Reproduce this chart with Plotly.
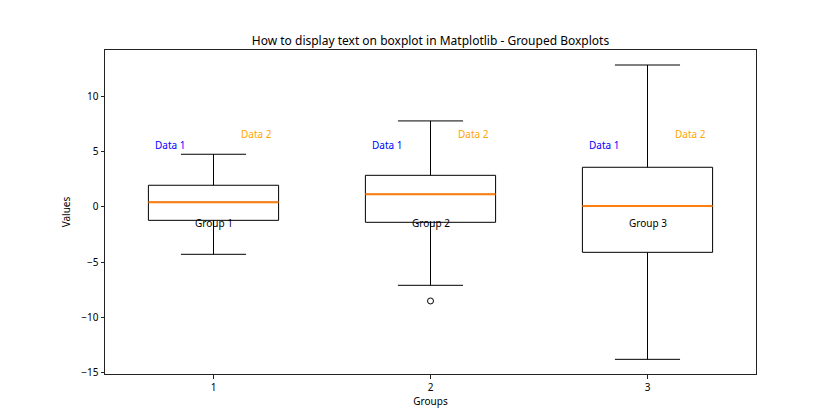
import plotly.graph_objects as go

# Data
positions = [1, 2, 3]
group_labels = ["Group 1", "Group 2", "Group 3"]
lower_whisker = [-4.29, -7.10, -13.81]
q1 = [-1.21, -1.39, -4.11]
median = [0.43, 1.15, 0.09]
q3 = [1.97, 2.87, 3.60]
upper_whisker = [4.78, 7.80, 12.87]
outlier_x = [2]
outlier_y = [-8.52]

data1_offset = -0.2
data2_offset = 0.2
data1_y = [5.6, 5.6, 5.6]
data2_y = [6.6, 6.6, 6.6]
group_label_y = [-1.45, -1.45, -1.45]

box_width = 0.6
FONT = "Noto Sans"

fig = go.Figure()
fig.add_trace(go.Box(
    x=positions, q1=q1, median=median, q3=q3,
    lowerfence=lower_whisker, upperfence=upper_whisker,
    width=box_width, whiskerwidth=0.5,
    line=dict(color="black", width=1),
    fillcolor="rgba(0,0,0,0)", boxpoints=False, showlegend=False,
    hoverinfo="skip",
))
# orange median lines
for p, m in zip(positions, median):
    fig.add_trace(go.Scatter(
        x=[p - box_width / 2, p + box_width / 2], y=[m, m],
        mode="lines", line=dict(color="#ff7f0e", width=2),
        showlegend=False, hoverinfo="skip",
    ))
fig.add_trace(go.Scatter(
    x=outlier_x, y=outlier_y, mode="markers",
    marker=dict(symbol="circle-open", size=6, color="black", line=dict(width=1)),
    showlegend=False, hoverinfo="skip",
))

for p, lab, y1, y2, gy in zip(positions, group_labels, data1_y, data2_y, group_label_y):
    fig.add_annotation(x=p + data1_offset, y=y1, text="Data 1", showarrow=False,
                       font=dict(family=FONT, size=10, color="blue"))
    fig.add_annotation(x=p + data2_offset, y=y2, text="Data 2", showarrow=False,
                       font=dict(family=FONT, size=10, color="orange"))
    fig.add_annotation(x=p, y=gy, text=lab, showarrow=False,
                       font=dict(family=FONT, size=10, color="black"))

# page body has an 8px margin, so the figure is 832x412 placed at (8, 8)
fig.update_layout(
    width=832, height=412,
    margin=dict(l=97, r=84, t=42, b=46),
    paper_bgcolor="white", plot_bgcolor="white",
    boxmode="overlay",
    font=dict(family=FONT, size=10, color="black"),
    title=dict(text="How to display text on boxplot in Matplotlib - Grouped Boxplots",
               x=(97 + 748) / 2 / 832, xanchor="center", y=1 - 33 / 412, yanchor="middle",
               font=dict(family=FONT, size=12, color="black")),
    xaxis=dict(range=[0.5, 3.5], tickvals=positions, ticktext=["1", "2", "3"],
               showgrid=False, zeroline=False, showline=True, mirror=True,
               linecolor="#222", linewidth=1, ticks="outside", ticklen=3.5,
               tickcolor="#222", title=dict(text="Groups", standoff=4,
                                            font=dict(family=FONT, size=10))),
    yaxis=dict(range=[-15.14, 14.23], tickvals=[-15, -10, -5, 0, 5, 10],
               showgrid=False, zeroline=False, showline=True, mirror=True,
               linecolor="#222", linewidth=1, ticks="outside", ticklen=3.5,
               tickcolor="#222", title=dict(text="Values", standoff=8,
                                            font=dict(family=FONT, size=10))),
)

fig.write_html("out.html")
